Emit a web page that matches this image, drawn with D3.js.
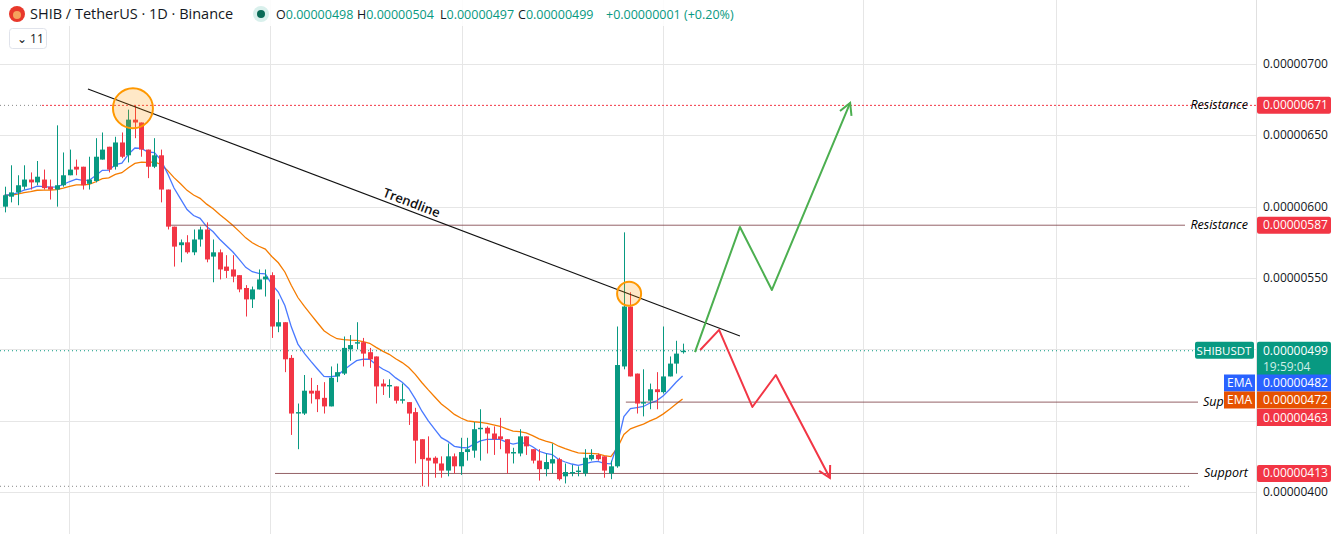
<!DOCTYPE html>
<html><head><meta charset="utf-8">
<script src="https://cdn.jsdelivr.net/npm/d3@7"></script>
<style>body{margin:0;background:#fff;font-family:"Open Sans",Roboto,sans-serif}</style>
</head><body><svg id="c" width="1336" height="534"></svg>
<script>
const UNIT = 1e-8;
// OHLC in units of 1e-8 USDT
const open  = [600,607,610,614,619,617,619,614,612,615,622,628,628,616,618,633,642,628,645,636,661,659,640,628,636,612,586,573,575,568,577,584,565,568,558,556,552,543,535,542,549,552,516,519,494,455,455,471,471,466,460,481,483,500,504,505,498,495,476,474,474,464,463,456,437,424,424,420,415,425,418,428,429,444,445,441,439,437,427,427,439,430,422,416,420,423,411,413,414,413,423,426,425,413,418,488,530,483,462,464,472,470,481,490,498];
const high  = [614,629,622,629,624,632,626,619,657,638,640,633,628,635,648,652,642,649,652,668,671,659,640,648,640,612,586,577,580,584,586,589,577,570,566,566,552,545,544,556,556,554,535,519,496,462,482,480,475,477,488,490,509,510,519,508,501,495,479,479,474,476,463,459,437,439,425,425,434,427,438,438,449,458,446,446,452,437,431,444,439,430,430,427,434,424,420,419,418,430,430,427,425,422,516,582,540,483,486,476,484,516,495,506,504];
const low   = [596,603,601,612,612,615,612,605,600,614,622,622,612,612,617,633,624,626,634,631,648,635,620,627,603,584,558,561,567,566,572,561,547,549,550,547,540,523,529,542,537,508,512,484,440,430,454,462,456,455,460,477,482,492,500,488,487,462,468,466,462,462,447,420,404,404,410,410,411,413,412,422,424,422,427,426,430,413,420,425,426,420,408,411,413,408,406,411,411,411,422,422,410,409,417,486,481,455,453,458,458,469,481,483,497];
const close = [608,610,615,619,617,621,613,612,615,622,626,626,615,619,635,640,626,645,635,661,659,640,628,636,612,586,572,575,568,577,584,563,568,556,555,551,542,535,542,549,551,516,519,493,455,456,471,469,465,460,480,484,501,503,505,497,493,474,474,475,464,465,455,436,423,422,420,415,425,418,428,430,444,445,441,437,437,427,428,439,432,422,416,421,423,409,414,414,415,424,426,423,415,418,489,530,481,462,463,472,470,481,490,497,499];
const priceTicks = [700,650,600,550,400];
const gridPrices = [700,650,600,550,500,450,400];
const monthIdx = [9.9,40.7,70.2,101,131.7,161.3];
const trendline = [[12.8,682.5],[112.8,509.4]];
const bullPath = [[105.9,498],[112.8,585.8],[117.7,541.6],[129.7,672.7]];
const bearPath = [[106.7,499.5],[109.6,513.6],[114.7,459.6],[118.3,482],[126.6,409.8]];
const circles = [[19.7,669,20],[95.8,539,12]];
const emaFast = 482, emaSlow = 472;

const GREEN="#089981", RED="#f23645";
const svg = d3.select("#c");
const x = d3.scaleLinear().domain([0,1]).range([4.5,11.02]);
const y = d3.scaleLinear().domain([400,700]).range([492,64]);
const fmt = v => (v*UNIT).toFixed(8);
const W = 1256;

svg.append("g").selectAll("line").data(gridPrices).join("line")
  .attr("x1",0).attr("x2",W).attr("y1",d=>Math.round(y(d))+.5).attr("y2",d=>Math.round(y(d))+.5)
  .attr("stroke","#e6e6e6");
svg.append("g").selectAll("line").data(monthIdx).join("line")
  .attr("x1",d=>Math.round(x(d))+.5).attr("x2",d=>Math.round(x(d))+.5).attr("y1",0).attr("y2",534)
  .attr("stroke","#e6e6e6");
svg.append("line").attr("x1",W+.5).attr("x2",W+.5).attr("y1",0).attr("y2",534).attr("stroke","#e0e0e0");

function ema(arr,n){const k=2/(n+1);let e=arr[0];return arr.map(v=>e=v*k+e*(1-k));}
const ef = ema(close,9), es = ema(close,20);
const ln = d3.line().x((d,i)=>x(i)).y(d=>y(d));
svg.append("path").attr("d",ln(es)).attr("fill","none").attr("stroke","#f57c00").attr("stroke-width",1.3);
svg.append("path").attr("d",ln(ef)).attr("fill","none").attr("stroke","#2962ff").attr("stroke-width",1.3).attr("opacity",.85);

svg.append("line").attr("x1",0).attr("x2",42).attr("y1",y(671)).attr("y2",y(671)).attr("stroke","#888").attr("stroke-dasharray","1,3");
svg.append("line").attr("x1",42).attr("x2",W).attr("y1",y(671)).attr("y2",y(671)).attr("stroke",RED).attr("stroke-dasharray","2,2");
svg.append("line").attr("x1",170).attr("x2",1185).attr("y1",y(587)).attr("y2",y(587)).attr("stroke","#7a3a40").attr("stroke-width",.8);
svg.append("line").attr("x1",x(95.3)).attr("x2",1198).attr("y1",y(463)).attr("y2",y(463)).attr("stroke","#7a3a40").attr("stroke-width",.8);
svg.append("line").attr("x1",275).attr("x2",1198).attr("y1",y(413)).attr("y2",y(413)).attr("stroke","#7a3a40").attr("stroke-width",.8);
svg.append("line").attr("x1",0).attr("x2",1190).attr("y1",y(404)).attr("y2",y(404)).attr("stroke","#888").attr("stroke-dasharray","1,3");
svg.append("line").attr("x1",0).attr("x2",1195).attr("y1",y(499)).attr("y2",y(499)).attr("stroke",GREEN).attr("stroke-dasharray","1,3");

const idx = d3.range(close.length);
const cg = svg.append("g");
cg.selectAll("line").data(idx).join("line")
  .attr("x1",i=>Math.round(x(i))+.5).attr("x2",i=>Math.round(x(i))+.5)
  .attr("y1",i=>y(high[i])).attr("y2",i=>y(low[i]))
  .attr("stroke",i=>close[i]>=open[i]?GREEN:RED);
cg.selectAll("rect").data(idx).join("rect")
  .attr("x",i=>Math.round(x(i))-2).attr("width",5)
  .attr("y",i=>y(Math.max(open[i],close[i])))
  .attr("height",i=>Math.max(1,Math.abs(y(open[i])-y(close[i]))))
  .attr("fill",i=>close[i]>=open[i]?GREEN:RED);

svg.append("line").attr("x1",x(trendline[0][0])).attr("y1",y(trendline[0][1]))
  .attr("x2",x(trendline[1][0])).attr("y2",y(trendline[1][1])).attr("stroke","#111").attr("stroke-width",1.1);
const tx=410, tyv = y(trendline[0][1]) + (tx-x(trendline[0][0]))*(y(trendline[1][1])-y(trendline[0][1]))/(x(trendline[1][0])-x(trendline[0][0]));
const ang = Math.atan2(y(trendline[1][1])-y(trendline[0][1]), x(trendline[1][0])-x(trendline[0][0]))*180/Math.PI;
svg.append("text").attr("transform",`translate(${tx},${tyv-4}) rotate(${ang})`).attr("text-anchor","middle")
  .attr("font-size",13).attr("font-weight",600).attr("fill","#111").text("Trendline");

svg.append("g").selectAll("circle").data(circles).join("circle")
  .attr("cx",d=>x(d[0])).attr("cy",d=>y(d[1])).attr("r",d=>d[2])
  .attr("fill","rgba(255,152,0,0.22)").attr("stroke","#ff9800").attr("stroke-width",2);

const pl = d3.line().x(d=>x(d[0])).y(d=>y(d[1]));
function arrowPath(pts,col){
  svg.append("path").attr("d",pl(pts)).attr("fill","none").attr("stroke",col).attr("stroke-width",2).attr("stroke-linejoin","round");
  const a=pts[pts.length-2], b=pts[pts.length-1];
  const x0=x(a[0]),y0=y(a[1]),x1=x(b[0]),y1=y(b[1]);
  const th=Math.atan2(y1-y0,x1-x0), L=13, s=0.5;
  const p1=[x1-L*Math.cos(th-s),y1-L*Math.sin(th-s)], p2=[x1-L*Math.cos(th+s),y1-L*Math.sin(th+s)];
  svg.append("path").attr("d",`M${p1}L${x1},${y1}L${p2}`).attr("fill","none").attr("stroke",col).attr("stroke-width",2);
}
arrowPath(bullPath,"#4caf50");
arrowPath(bearPath,RED);

function italic(txt,p){svg.append("text").attr("x",1248).attr("y",y(p)+4).attr("text-anchor","end")
  .attr("font-size",12.5).attr("font-style","italic").attr("font-weight",500).attr("fill","#000").text(txt);}
italic("Resistance",671); italic("Resistance",587); italic("Support",413);

svg.append("g").selectAll("text").data(priceTicks).join("text")
  .attr("x",1263).attr("y",d=>y(d)+4).attr("font-size",12).attr("fill","#131722").text(fmt);

function tag(p,col,txt,h=17,dy=0){
  svg.append("rect").attr("x",1257).attr("y",y(p)-h/2+dy).attr("width",74).attr("height",h).attr("fill",col).attr("rx",2);
  svg.append("text").attr("x",1263).attr("y",y(p)+4+dy).attr("font-size",12).attr("fill","#fff").attr("font-weight",500).text(txt);
}
tag(671,RED,fmt(671)); tag(587,RED,fmt(587));
svg.append("rect").attr("x",1257).attr("y",y(499)-9).attr("width",74).attr("height",35).attr("fill",GREEN).attr("rx",2);
svg.append("text").attr("x",1263).attr("y",y(499)+4).attr("font-size",12).attr("fill","#fff").text(fmt(499));
svg.append("text").attr("x",1263).attr("y",y(499)+20).attr("font-size",12).attr("fill","#cfeee8").text("19:59:04");
svg.append("rect").attr("x",1195).attr("y",y(499)-9).attr("width",59).attr("height",17).attr("fill",GREEN).attr("rx",2);
svg.append("text").attr("x",1224).attr("y",y(499)+4).attr("text-anchor","middle").attr("font-size",11.5).attr("fill","#fff").text("SHIBUSDT");
svg.append("text").attr("x",1203).attr("y",y(463)+4).attr("font-size",12.5).attr("font-style","italic").attr("font-weight",500).attr("fill","#000").text("Sup");
[[emaFast,"#2962ff",383],[emaSlow,"#e65100",400]].forEach(([v,c,py])=>{
  svg.append("rect").attr("x",1257).attr("y",py-8.5).attr("width",74).attr("height",17).attr("fill",c);
  svg.append("text").attr("x",1263).attr("y",py+4).attr("font-size",12).attr("fill","#fff").text(fmt(v));
  svg.append("rect").attr("x",1224).attr("y",py-8.5).attr("width",31).attr("height",17).attr("fill",c);
  svg.append("text").attr("x",1239.5).attr("y",py+4).attr("text-anchor","middle").attr("font-size",12).attr("fill","#fff").text("EMA");
});
svg.append("rect").attr("x",1257).attr("y",409).attr("width",74).attr("height",17).attr("fill",RED);
svg.append("text").attr("x",1263).attr("y",421.5).attr("font-size",12).attr("fill","#fff").text(fmt(463));
tag(413,RED,fmt(413));

svg.append("rect").attr("x",0).attr("y",0).attr("width",740).attr("height",26).attr("fill","rgba(255,255,255,0.85)");
svg.append("circle").attr("cx",17).attr("cy",14).attr("r",8).attr("fill","#e8382b");
svg.append("circle").attr("cx",17).attr("cy",15).attr("r",4).attr("fill","#f5a25d");
svg.append("text").attr("x",30).attr("y",19).attr("font-size",14.5).attr("fill","#131722").text("SHIB / TetherUS · 1D · Binance");
svg.append("circle").attr("cx",261).attr("cy",14).attr("r",8).attr("fill","#d9f0ec");
svg.append("circle").attr("cx",261).attr("cy",14).attr("r",4).attr("fill","#0a6b57");
const hdr=[["O",fmt(open[104]),276],["H",fmt(high[104]),357],["L",fmt(low[104]),440],["C",fmt(close[104]),518]];
hdr.forEach(([k,v,px])=>{
  const t=svg.append("text").attr("x",px).attr("y",19).attr("font-size",12.5);
  t.append("tspan").attr("fill","#131722").text(k);
  t.append("tspan").attr("fill",GREEN).text(v);
});
svg.append("text").attr("x",606).attr("y",19).attr("font-size",12.5).attr("fill",GREEN).text("+0.00000001 (+0.20%)");
svg.append("rect").attr("x",9.5).attr("y",28.5).attr("width",37).attr("height",20).attr("rx",3).attr("fill","#fff").attr("stroke","#e0e3eb");
svg.append("text").attr("x",17).attr("y",43).attr("font-size",12).attr("fill","#131722").text("⌄ 11");
</script></body></html>
